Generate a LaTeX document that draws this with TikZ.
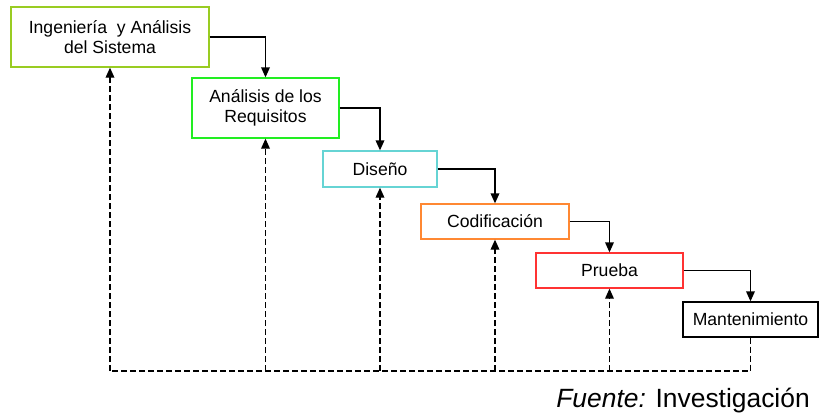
\documentclass[tikz,border=0pt]{standalone}
\usepackage{fontspec}
\setmainfont{Liberation Sans}
\usetikzlibrary{arrows.meta,positioning}
\definecolor{cA}{HTML}{99CC22}
\definecolor{cB}{HTML}{22EE22}
\definecolor{cC}{HTML}{66D4D4}
\definecolor{cD}{HTML}{FF8833}
\definecolor{cE}{HTML}{FF3333}
\tikzset{
  box/.style={draw, line width=1pt, fill=white, inner sep=0pt, align=center, font=\fontsize{13.2pt}{15.5pt}\selectfont},
  flow/.style={line width=1pt, -{Triangle[width=6.5pt,length=7.5pt]}},
  back/.style={line width=1pt, dash pattern=on 4.5pt off 2.25pt, -{Triangle[width=6.5pt,length=7.5pt]}},
  backline/.style={line width=1pt, dash pattern=on 4.5pt off 2.25pt},
}
\begin{document}
\begin{tikzpicture}[x=0.75pt,y=-0.75pt]
\useasboundingbox (0,0) rectangle (822,412);
\node[box, draw=cA, minimum width=198*0.75pt, minimum height=60*0.75pt] (a) at (110,37) {Ingeniería\ \ y Análisis\\del Sistema};
\node[box, draw=cB, minimum width=147*0.75pt, minimum height=60*0.75pt] (b) at (265.5,108) {Análisis de los\\Requisitos};
\node[box, draw=cC, minimum width=114*0.75pt, minimum height=36*0.75pt] (c) at (380,169) {Diseño};
\node[box, draw=cD, minimum width=148*0.75pt, minimum height=35*0.75pt] (d) at (495,221.5) {Codificación};
\node[box, draw=cE, minimum width=147*0.75pt, minimum height=35*0.75pt] (e) at (609.5,270.5) {Prueba};
\node[box, draw=black, minimum width=135*0.75pt, minimum height=35*0.75pt] (f) at (750.5,319.5) {Mantenimiento};
\draw[flow] (a.east) -| (b.north);
\draw[flow] (b.east) -| (c.north);
\draw[flow] (c.east) -| (d.north);
\draw[flow] (d.east) -| (e.north);
\draw[flow] (e.east) -| (f.north);
\coordinate (l0) at (110,371);
\coordinate (r0) at (f.south |- l0);
\draw[backline] (f.south) -- (r0) -- (l0);
\draw[back] (l0) -- (a.south);
\draw[back] (b.south |- l0) -- (b.south);
\draw[back] (c.south |- l0) -- (c.south);
\draw[back] (d.south |- l0) -- (d.south);
\draw[back] (e.south |- l0) -- (e.south);
\node[anchor=base east, inner sep=0pt, font=\fontsize{19.8pt}{22pt}\selectfont] (src) at (810,407) {\textit{Fuente:} Investigación};
\end{tikzpicture}
\end{document}
